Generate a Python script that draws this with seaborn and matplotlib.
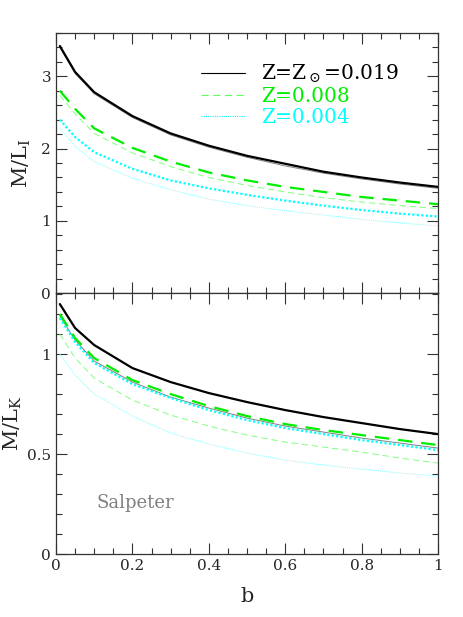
import matplotlib
matplotlib.use('Agg')
import matplotlib.pyplot as plt
import seaborn as sns
from matplotlib.ticker import MultipleLocator, FuncFormatter

# b values where models are computed
b = [0.01, 0.05, 0.1, 0.2, 0.3, 0.4, 0.5, 0.6, 0.7, 0.8, 0.9, 1.0]

# M/L_I (top panel), thick and thin curves per metallicity
mli_019_thick = [3.42, 3.06, 2.78, 2.45, 2.21, 2.04, 1.90, 1.79, 1.68, 1.60, 1.53, 1.47]
mli_019_thin = [3.40, 3.04, 2.76, 2.43, 2.19, 2.02, 1.88, 1.76, 1.66, 1.58, 1.51, 1.45]
mli_008_thick = [2.80, 2.55, 2.28, 2.01, 1.82, 1.67, 1.56, 1.47, 1.40, 1.33, 1.28, 1.23]
mli_008_thin = [2.74, 2.48, 2.21, 1.94, 1.75, 1.60, 1.49, 1.40, 1.32, 1.26, 1.21, 1.17]
mli_004_thick = [2.40, 2.16, 1.95, 1.72, 1.56, 1.45, 1.36, 1.28, 1.21, 1.15, 1.10, 1.06]
mli_004_thin = [2.28, 2.03, 1.82, 1.59, 1.43, 1.30, 1.21, 1.14, 1.08, 1.02, 0.97, 0.93]

# M/L_K (bottom panel)
mlk_019_thick = [1.25, 1.13, 1.045, 0.93, 0.86, 0.805, 0.76, 0.72, 0.685, 0.655, 0.625, 0.60]
mlk_019_thin = [1.19, 1.07, 0.965, 0.86, 0.785, 0.73, 0.68, 0.64, 0.61, 0.58, 0.555, 0.53]
mlk_008_thick = [1.20, 1.08, 0.98, 0.87, 0.80, 0.74, 0.69, 0.65, 0.62, 0.595, 0.57, 0.545]
mlk_008_thin = [1.10, 0.98, 0.88, 0.77, 0.695, 0.64, 0.595, 0.56, 0.535, 0.51, 0.48, 0.455]
mlk_004_thick = [1.18, 1.06, 0.955, 0.85, 0.78, 0.72, 0.67, 0.63, 0.60, 0.57, 0.545, 0.52]
mlk_004_thin = [1.00, 0.895, 0.80, 0.69, 0.605, 0.55, 0.505, 0.47, 0.445, 0.425, 0.405, 0.39]

labels = [r'Z=Z$_\odot$=0.019', 'Z=0.008', 'Z=0.004']

sns.set_style('ticks')
plt.rcParams['font.family'] = ['DejaVu Serif']
plt.rcParams['mathtext.fontset'] = 'dejavuserif'

black = '#000000'
green = '#00ee00'
cyan = '#00ffff'
styles = [
    (black, '-', 'gray'),
    (green, (0, (6.5, 4)), '#80ff80'),
    (cyan, (0, (1, 1)), '#80ffff'),
]

fig = plt.figure(figsize=(4.63, 6.17), dpi=100)
ax1 = fig.add_axes([0.121, 0.525, 0.825, 0.4215])
ax2 = fig.add_axes([0.121, 0.102, 0.825, 0.423], sharex=ax1)

top = [(mli_019_thick, mli_019_thin), (mli_008_thick, mli_008_thin), (mli_004_thick, mli_004_thin)]
bot = [(mlk_019_thick, mlk_019_thin), (mlk_008_thick, mlk_008_thin), (mlk_004_thick, mlk_004_thin)]

for ax, sets in [(ax1, top), (ax2, bot)]:
    for (thick, thin), (col, ls, thincol) in zip(sets, styles):
        sns.lineplot(x=b, y=thin, ax=ax, color=thincol, linestyle=ls, linewidth=0.7)
        sns.lineplot(x=b, y=thick, ax=ax, color=col, linestyle=ls, linewidth=1.6)

fmt = FuncFormatter(lambda v, p: '%g' % v)
for ax in (ax1, ax2):
    ax.set_xlim(0, 1)
    ax.xaxis.set_major_locator(MultipleLocator(0.2))
    ax.xaxis.set_minor_locator(MultipleLocator(0.05))
    ax.tick_params(which='both', direction='in', top=True, right=True,
                   color='#333333', labelsize=11)
    ax.tick_params(which='major', length=8, width=0.8)
    ax.tick_params(which='minor', length=4, width=0.8)
    ax.xaxis.set_major_formatter(fmt)
    ax.yaxis.set_major_formatter(fmt)
    for s in ax.spines.values():
        s.set_color('#333333')
        s.set_linewidth(0.9)

ax1.set_ylim(0, 3.6)
ax1.yaxis.set_major_locator(MultipleLocator(1))
ax1.yaxis.set_minor_locator(MultipleLocator(0.2))
ax1.tick_params(labelbottom=False)
ax1.set_ylabel(r'$\mathrm{M/L_I}$', fontsize=15, labelpad=6)

ax2.set_ylim(0, 1.305)
ax2.yaxis.set_major_locator(MultipleLocator(0.5))
ax2.yaxis.set_minor_locator(MultipleLocator(0.1))
ax2.set_ylabel(r'$\mathrm{M/L_K}$', fontsize=15, labelpad=2)
ax2.set_xlabel('b', fontsize=15, labelpad=10)

ax2.text(0.105, 0.175, 'Salpeter', transform=ax2.transAxes, color='gray',
         fontsize=13)

handles = [plt.Line2D([], [], color=c, linestyle=ls, linewidth=0.8) for c, ls, _ in styles]
handles[1].set_color('#60ff60')
ax1.legend(handles, labels, loc='upper right', bbox_to_anchor=(0.945, 0.955),
           frameon=False, fontsize=14.5, handlelength=2.2, handletextpad=0.8,
           labelspacing=0.1, labelcolor=[black, green, cyan])

fig.savefig('out.png', dpi=100)
